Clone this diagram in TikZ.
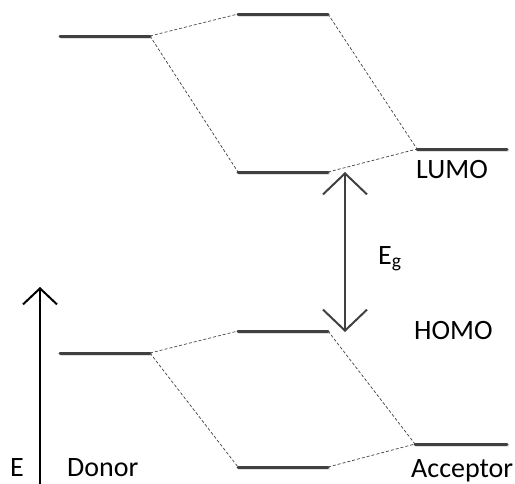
\documentclass[tikz,border=0pt]{standalone}
\usepackage{fontspec}
\setmainfont{Carlito}
\usetikzlibrary{arrows.meta}
\definecolor{lvl}{HTML}{404040}
\tikzset{
  level/.style={line width=3pt, draw=lvl, line cap=round},
  levelshadow/.style={line width=3pt, draw=black!12, line cap=round},
  link/.style={draw=lvl, line width=0.7pt, dash pattern=on 3pt off 2pt},
  lab/.style={anchor=base west, inner sep=0pt, font=\fontsize{28}{31}\selectfont},
}
\begin{document}
\begin{tikzpicture}[x=1pt, y=-1pt]
\useasboundingbox (0,0) rectangle (515,483);

% energy level end points
\coordinate (dLa) at (60,36);   \coordinate (dLb) at (150,36);
\coordinate (uUa) at (238,14);  \coordinate (uUb) at (328,14);
\coordinate (uLa) at (238,172); \coordinate (uLb) at (328,172);
\coordinate (aLa) at (417,149); \coordinate (aLb) at (507,149);

\coordinate (dHa) at (60,353);  \coordinate (dHb) at (150,353);
\coordinate (hUa) at (238,331); \coordinate (hUb) at (328,331);
\coordinate (hLa) at (238,467); \coordinate (hLb) at (328,467);
\coordinate (aHa) at (415,444); \coordinate (aHb) at (507,444);

% faint shadows under the levels
\foreach \a/\b in {dLa/dLb,uUa/uUb,uLa/uLb,aLa/aLb,dHa/dHb,hUa/hUb,hLa/hLb,aHa/aHb}
  \draw[levelshadow] ([shift={(1,1.5)}]\a) -- ([shift={(1,1.5)}]\b);

% levels
\foreach \a/\b in {dLa/dLb,uUa/uUb,uLa/uLb,aLa/aLb,dHa/dHb,hUa/hUb,hLa/hLb,aHa/aHb}
  \draw[level] (\a) -- (\b);

% correlation lines
\draw[link] (dLb) -- (uUa);
\draw[link] (dLb) -- (uLa);
\draw[link] (uUb) -- (aLa);
\draw[link] (uLb) -- (aLa);
\draw[link] (dHb) -- (hUa);
\draw[link] (dHb) -- (hLa);
\draw[link] (hUb) -- (aHa);
\draw[link] (hLb) -- (aHa);

% band gap arrow
\coordinate (gTop) at (345,172);
\coordinate (gBot) at (345,332);
\draw[draw=lvl, line width=2pt,
  {Straight Barb[length=21pt,width=44pt,line width=2pt]}-{Straight Barb[length=21pt,width=44pt,line width=2pt]}]
  (gTop) -- (gBot);

% energy axis
\coordinate (eBot) at (40,484);
\coordinate (eTop) at (40,287);
\draw[line width=2pt, -{Straight Barb[length=16pt,width=34pt,line width=2pt]}] (eBot) -- (eTop);

% labels
\node[lab] (lumo) at (416,178) {LUMO};
\node[lab] (homo) at (414,339) {HOMO};
\node[lab] (eg) at (378,264) {E\textsubscript{g}};
\node[lab] (e) at (10,476) {E};
\node[lab] (donor) at (67,476) {Donor};
\node[lab] (acc) at (411,477) {Acceptor};
\end{tikzpicture}
\end{document}
